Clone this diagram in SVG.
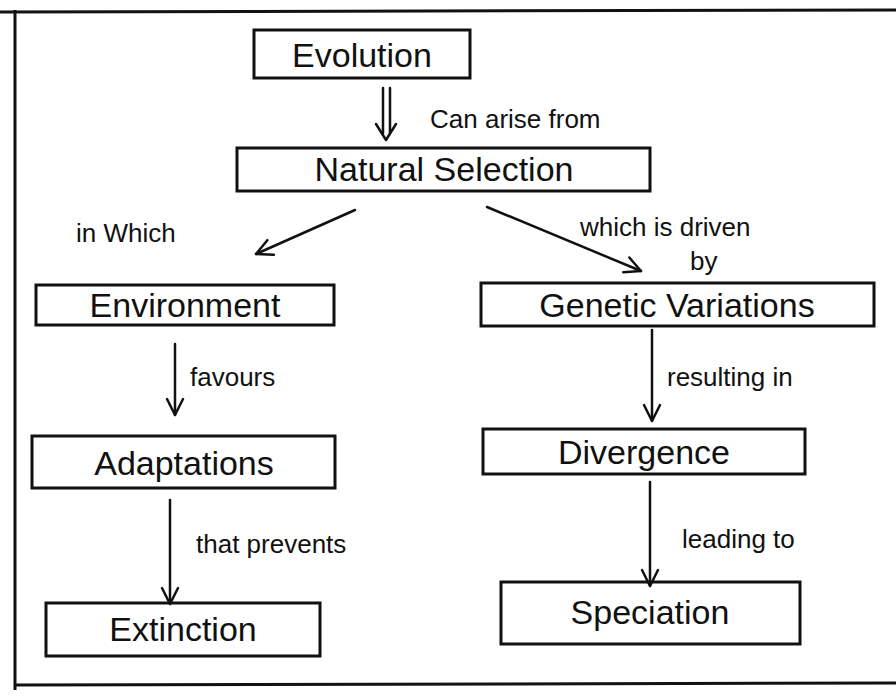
<svg xmlns="http://www.w3.org/2000/svg" width="896" height="697" viewBox="0 0 896 697">
<defs>
<style>
.box{fill:none;stroke:#111;stroke-width:3;stroke-linecap:round}
.t{font-family:"Liberation Sans",Arial,sans-serif;fill:#111}
.n{font-size:34px}
.l{font-size:26px}
.c{fill:none;stroke:#111;stroke-width:2.5;stroke-linecap:round;stroke-linejoin:round}
</style>
<marker id="ah" viewBox="0 0 20 20" refX="18" refY="10" markerWidth="20" markerHeight="20" markerUnits="userSpaceOnUse" orient="auto">
<path d="M2,2 L18,10 L2,18" fill="none" stroke="#111" stroke-width="2.5" stroke-linecap="round" stroke-linejoin="round"/>
</marker>
</defs>
<rect width="896" height="697" fill="#ffffff"/>
<path d="M0,12 L896,10 M15,10 L15,690 M15,685 L896,683" fill="none" stroke="#111" stroke-width="3"/>
<g id="evolution"><rect class="box" x="254" y="30" width="216" height="48"/><text class="t n" x="362" y="67" text-anchor="middle">Evolution</text></g>
<g id="natural-selection"><rect class="box" x="237" y="148" width="413" height="43"/><text class="t n" x="444" y="181" text-anchor="middle">Natural Selection</text></g>
<g id="environment"><rect class="box" x="36" y="285" width="298" height="40"/><text class="t n" x="185" y="317" text-anchor="middle">Environment</text></g>
<g id="genetic-variations"><rect class="box" x="481" y="283" width="393" height="43"/><text class="t n" x="677" y="317" text-anchor="middle">Genetic Variations</text></g>
<g id="adaptations"><rect class="box" x="32" y="436" width="303" height="52"/><text class="t n" x="184" y="475" text-anchor="middle">Adaptations</text></g>
<g id="divergence"><rect class="box" x="483" y="429" width="322" height="45"/><text class="t n" x="644" y="464" text-anchor="middle">Divergence</text></g>
<g id="extinction"><rect class="box" x="46" y="603" width="274" height="53"/><text class="t n" x="183" y="641" text-anchor="middle">Extinction</text></g>
<g id="speciation"><rect class="box" x="501" y="582" width="299" height="62"/><text class="t n" x="650" y="624" text-anchor="middle">Speciation</text></g>
<g id="connectors">
<path class="c" d="M383,88 L383,133 M390,88 L390,133"/>
<path class="c" d="M376,124 L386,140 L396,124"/>
<text class="t l" x="430" y="128">Can arise from</text>
<path class="c" d="M355,210 L256,254" marker-end="url(#ah)"/>
<text class="t l" x="76" y="242">in Which</text>
<path class="c" d="M487,207 L641,271" marker-end="url(#ah)"/>
<text class="t l" x="580" y="236">which is driven</text>
<text class="t l" x="690" y="270">by</text>
<path class="c" d="M175,344 L175,415" marker-end="url(#ah)"/>
<text class="t l" x="190" y="386">favours</text>
<path class="c" d="M652,330 L652,421" marker-end="url(#ah)"/>
<text class="t l" x="667" y="386">resulting in</text>
<path class="c" d="M170,500 L170,604" marker-end="url(#ah)"/>
<text class="t l" x="196" y="553">that prevents</text>
<path class="c" d="M650,482 L650,586" marker-end="url(#ah)"/>
<text class="t l" x="682" y="548">leading to</text>
</g>
</svg>
